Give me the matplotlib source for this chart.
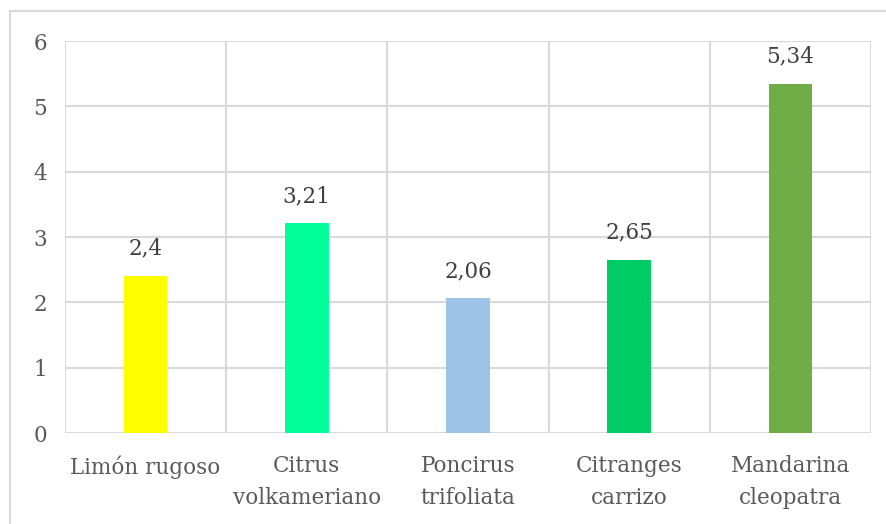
import matplotlib
matplotlib.use("Agg")
import matplotlib.pyplot as plt
from matplotlib.patches import Rectangle

categories = ["Limón rugoso", "Citrus\nvolkameriano", "Poncirus\ntrifoliata",
              "Citranges\ncarrizo", "Mandarina\ncleopatra"]
values = [2.4, 3.21, 2.06, 2.65, 5.34]
value_labels = ["2,4", "3,21", "2,06", "2,65", "5,34"]
colors = ["#FFFF00", "#00FF99", "#9DC3E6", "#00CC66", "#70AD47"]
yticks = [0, 1, 2, 3, 4, 5, 6]

W, H = 886, 524
fig = plt.figure(figsize=(W / 100, H / 100), dpi=100)
fig.patch.set_facecolor("white")

# outer chart border (runs off the right and bottom edges)
fig.patches.append(Rectangle((10 / W, -0.05), 1.1, 1 - 11 / H + 0.05,
                             transform=fig.transFigure, fill=False,
                             edgecolor="#D9D9D9", linewidth=1.5, zorder=0))

left, right, top, bottom = 65, 871, 41, 433
ax = fig.add_axes([left / W, 1 - bottom / H, (right - left) / W, (bottom - top) / H])

font = "DejaVu Serif"
text_color = "#595959"
grid_color = "#D9D9D9"
fs = 15.5

n = len(categories)
x = list(range(n))
ax.bar(x, values, width=0.27, color=colors, zorder=3)
for xi, v, lab in zip(x, values, value_labels):
    ax.text(xi, v + 0.25, lab, ha="center", va="bottom", fontsize=fs,
            family=font, color="#404040")

ax.set_xlim(-0.5, n - 0.5)
ax.set_ylim(0, 6)
ax.set_yticks(yticks)
ax.set_yticklabels([str(t) for t in yticks], family=font, fontsize=fs, color=text_color)
ax.set_xticks(x)
ax.set_xticklabels(categories, family=font, fontsize=fs, color=text_color,
                   linespacing=1.55)
ax.tick_params(length=0, pad=16, axis="x")
ax.tick_params(length=0, pad=13, axis="y")

for t in yticks:
    ax.axhline(t, color=grid_color, linewidth=1.5, zorder=1)
for b in range(n + 1):
    ax.axvline(b - 0.5, color=grid_color, linewidth=1.5, zorder=1)
for s in ax.spines.values():
    s.set_visible(False)

fig.savefig("out.png", dpi=100)
